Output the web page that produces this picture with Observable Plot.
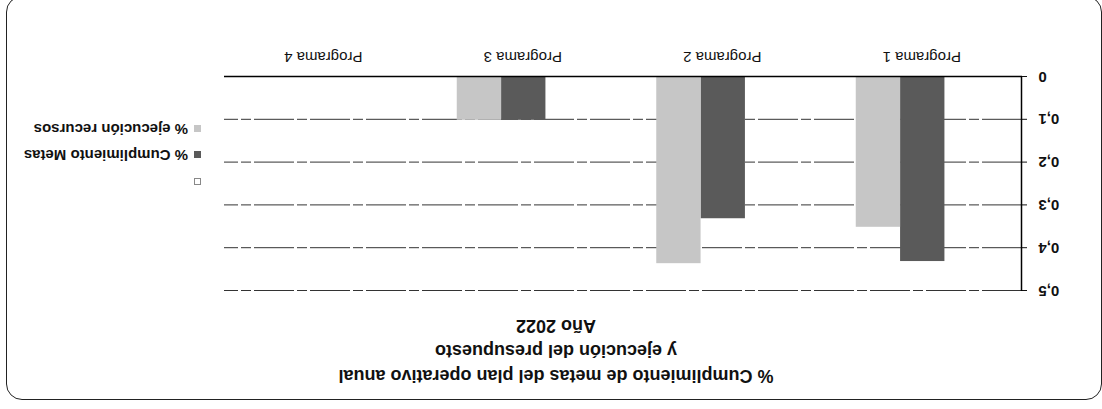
<!DOCTYPE html>
<html>
<head>
<meta charset="utf-8">
<script src="https://cdn.jsdelivr.net/npm/d3@7"></script>
<script src="https://cdn.jsdelivr.net/npm/@observablehq/plot@0.6"></script>
<style>
  html, body { margin: 0; padding: 0; background: #fff; }
  #page { position: absolute; left: 0; top: 0; width: 1102px; height: 409px; overflow: hidden; background: #fff; }
  #chart { position: absolute; left: 0; top: 0; width: 1102px; height: 409px; transform: rotate(180deg); transform-origin: 551px 204.5px; font-family: "Liberation Sans", Arial, sans-serif; color: #111; }
  #border { position: absolute; left: 0px; top: 9px; width: 1096px; height: 404px; border: 1.5px solid #222; border-radius: 16px; box-sizing: border-box; }
  #title { position: absolute; left: 196px; top: 21px; width: 700px; text-align: center; font-weight: bold; font-size: 18px; line-height: 25px; }
  #plot { position: absolute; left: 0; top: 0; }
  #plot g[aria-label="y-axis tick label"], #plot g[aria-label="y-axis"] text { font-weight: bold; font-size: 15px; }
  .leg { position: absolute; left: 901px; font-size: 15px; font-weight: bold; white-space: nowrap; height: 20px; line-height: 20px; }
  .leg .sw { display: inline-block; width: 7px; height: 7px; margin-right: 6px; vertical-align: 1px; box-sizing: border-box; }
</style>
</head>
<body>
<div id="page">
  <div id="chart">
    <div id="border"></div>
    <div id="plot"></div>
    <div id="title"></div>
    <div id="legend"></div>
  </div>
</div>
<script>
// ---- data ----
const programas = ["Programa 1", "Programa 2", "Programa 3", "Programa 4"];
const series = ["", "% Cumplimiento Metas", "% ejecución recursos"];
const serieVacia = [0, 0, 0, 0];
const cumplimientoMetas = [0.43, 0.33, 0.10, 0];
const ejecucionRecursos = [0.35, 0.435, 0.10, 0];
const yTicks = [0, 0.1, 0.2, 0.3, 0.4, 0.5];
const titleLines = ["% Cumplimiento de metas del plan operativo anual", "y ejecución del presupuesto", "Año 2022"];
const seriesColors = ["#ffffff", "#5a5a5a", "#c6c6c6"];

// ---- table ----
const valores = [serieVacia, cumplimientoMetas, ejecucionRecursos];
const rows = programas.flatMap((p, i) => valores.map((vals, j) => ({programa: p, i, j, serie: series[j], valor: vals[i]})));
const gap = 0.75, slots = series.length + 2 * gap;

const fmt = d => String(+d.toFixed(1)).replace(".", ",");

const chart = Plot.plot({
  width: 1102,
  height: 409,
  marginLeft: 80,
  marginRight: 224,
  marginTop: 118,
  marginBottom: 77,
  style: {fontFamily: "Liberation Sans, Arial, sans-serif", fontSize: "15px", color: "#111", background: "transparent", overflow: "visible"},
  x: {domain: [0, programas.length], ticks: programas.map((p, i) => i + 0.5), tickFormat: d => programas[Math.floor(d)], tickSize: 0, tickPadding: 14, label: null},
  y: {domain: [0, 0.5], ticks: yTicks, tickFormat: fmt, tickSize: 5, tickPadding: 12, label: null},
  color: {domain: series, range: seriesColors},
  marks: [
    Plot.ruleY(yTicks.filter(d => d > 0), {stroke: "#333", strokeWidth: 1, strokeDasharray: "40,3,10,3"}),
    Plot.rectY(rows.filter(d => d.valor > 0), {
      x1: d => d.i + (gap + d.j) / slots,
      x2: d => d.i + (gap + d.j + 1) / slots,
      y1: 0,
      y2: "valor",
      fill: "serie"
    }),
    Plot.ruleY([0], {stroke: "#000", strokeWidth: 1.5}),
    Plot.ruleX([0], {y1: 0, y2: 0.5, stroke: "#000", strokeWidth: 1.5})
  ]
});
document.getElementById("plot").appendChild(chart);

// title
const t = document.getElementById("title");
titleLines.forEach(l => { const d = document.createElement("div"); d.textContent = l; t.appendChild(d); });

// legend
const legendTops = [217, 244, 270];
const leg = document.getElementById("legend");
series.forEach((s, j) => {
  const d = document.createElement("div");
  d.className = "leg";
  d.style.top = legendTops[j] + "px";
  const sw = document.createElement("span");
  sw.className = "sw";
  sw.style.background = seriesColors[j];
  sw.style.border = j === 0 ? "1px solid #888" : "1px solid " + seriesColors[j];
  d.appendChild(sw);
  d.appendChild(document.createTextNode(s));
  leg.appendChild(d);
});
</script>
</body>
</html>
